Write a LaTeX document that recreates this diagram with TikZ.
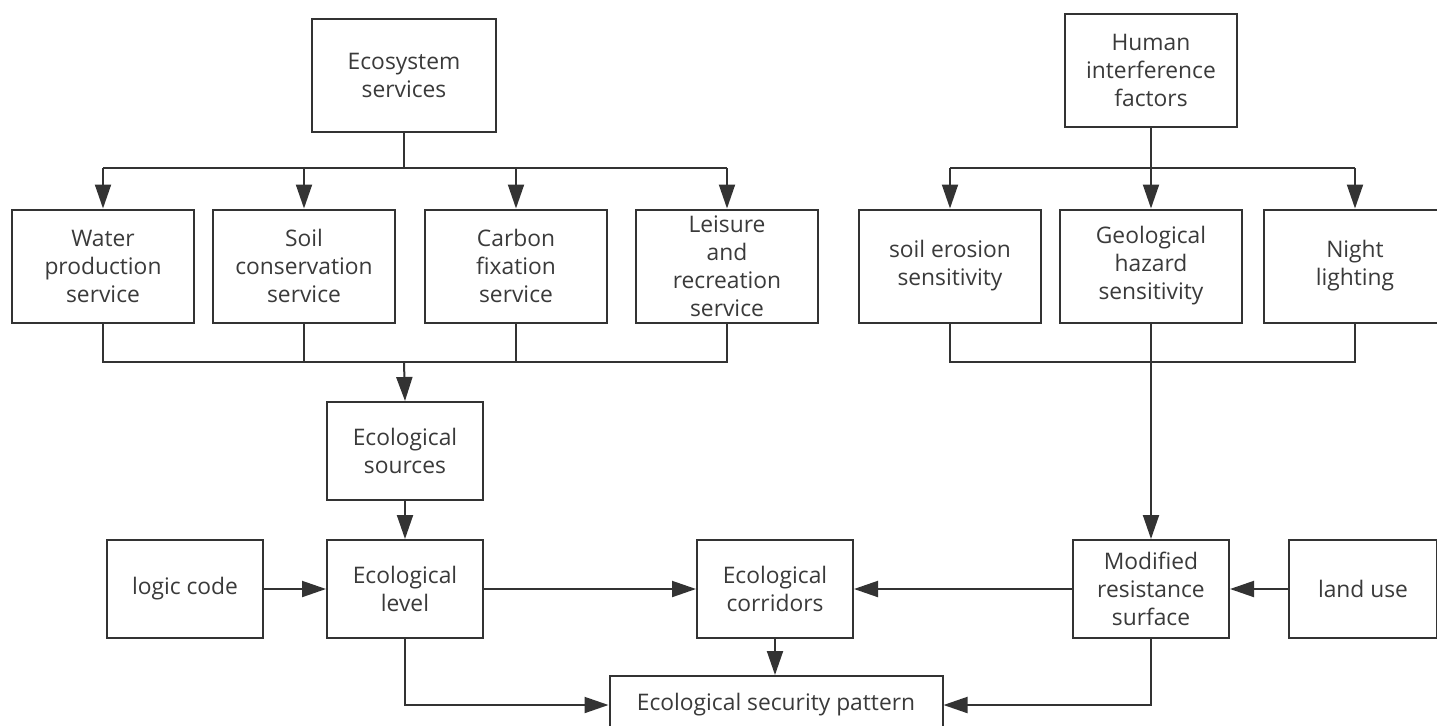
\documentclass[tikz,border=0pt]{standalone}
\usepackage{fontspec}
\setmainfont{Open Sans}
\usetikzlibrary{arrows.meta}
\definecolor{ln}{HTML}{333333}
\definecolor{tx}{HTML}{3A3A3A}
\tikzset{
  box/.style={draw=ln, line width=1pt, fill=white, align=center, text=tx,
    font=\fontsize{11.4}{14}\selectfont, inner sep=0pt},
  big/.style={box, minimum width=91pt, minimum height=56.5pt},
  mid/.style={box, minimum width=78pt, minimum height=49pt},
  conn/.style={draw=ln, line width=1pt},
  arr/.style={conn, -{Triangle[length=12pt,width=8pt]}},
}
\begin{document}
\begin{tikzpicture}[x=0.5pt,y=-0.5pt]
\useasboundingbox (0,0) rectangle (1437,725);
\clip (0,0) rectangle (1437,725);
% top row
\node[big, minimum width=92pt] (eco) at (404,75) {Ecosystem\\services};
\node[big, minimum width=86pt] (hum) at (1151,70) {Human\\interference\\factors};
% second row
\node[big] (water) at (103,266) {Water\\production\\service};
\node[big] (soil) at (304,266) {Soil\\conservation\\service};
\node[big] (carbon) at (516,266) {Carbon\\fixation\\service};
\node[big] (leis) at (727,266) {Leisure\\and\\recreation\\service};
\node[big] (eros) at (950,266) {soil erosion\\sensitivity};
\node[big] (geo) at (1151,266) {Geological\\hazard\\sensitivity};
\node[big] (night) at (1355,266) {Night\\lighting};
% lower
\node[mid] (src) at (405,451) {Ecological\\sources};
\node[mid] (lvl) at (405,589) {Ecological\\level};
\node[mid] (logic) at (185,589) {logic code};
\node[mid] (corr) at (775,589) {Ecological\\corridors};
\node[mid] (mod) at (1151,589) {Modified\\resistance\\surface};
\node[mid, minimum width=74pt] (land) at (1363,589) {land use};
\node[box, minimum width=166.5pt, minimum height=29pt] (sec) at (776,705) {Ecological security pattern};
% distribution lines left
\coordinate (dl) at (404,168);
\draw[conn] (eco.south) -- (dl);
\draw[conn] (water.north |- dl) -- (leis.north |- dl);
\foreach \n in {water,soil,carbon,leis}{
  \draw[arr] (\n.north |- dl) -- (\n.north);
}
% distribution lines right
\coordinate (dr) at (1151,168);
\draw[conn] (hum.south) -- (dr);
\draw[conn] (eros.north |- dr) -- (night.north |- dr);
\foreach \n in {eros,geo,night}{
  \draw[arr] (\n.north |- dr) -- (\n.north);
}
% collection left
\coordinate (cl) at (404,362);
\draw[conn] (water.south) -- (water.south |- cl) -- (leis.south |- cl) -- (leis.south);
\draw[conn] (soil.south) -- (soil.south |- cl);
\draw[conn] (carbon.south) -- (carbon.south |- cl);
\draw[arr] (cl) -- (src.north);
% collection right
\coordinate (cr) at (1151,362);
\draw[conn] (eros.south) -- (eros.south |- cr) -- (night.south |- cr) -- (night.south);
\draw[arr] (geo.south) -- (mod.north);
% lower connectors
\draw[arr] (src.south) -- (lvl.north);
\draw[arr] (logic.east) -- (lvl.west);
\draw[arr] (lvl.east) -- (corr.west);
\draw[arr] (mod.west) -- (corr.east);
\draw[arr] (land.west) -- (mod.east);
\draw[arr] (corr.south) -- (sec.north -| corr.south);
\draw[arr] (lvl.south) -- (lvl.south |- sec.west) -- (sec.west);
\draw[arr] (mod.south) -- (mod.south |- sec.east) -- (sec.east);
\end{tikzpicture}
\end{document}
